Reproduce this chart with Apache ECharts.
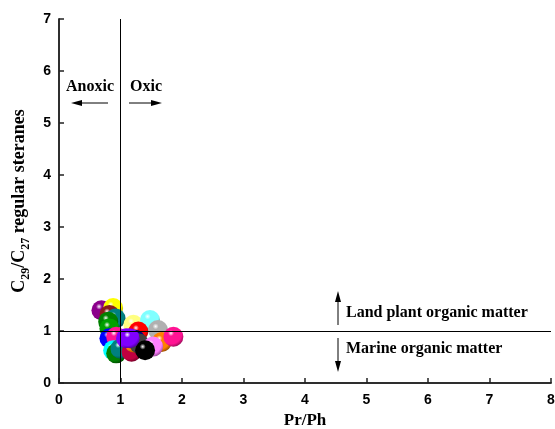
<!DOCTYPE html>
<html>
<head>
<meta charset="utf-8">
<script src="https://cdn.jsdelivr.net/npm/echarts@6/dist/echarts.min.js"></script>
<style>
html,body{margin:0;padding:0;background:#fff;}
#chart{width:555px;height:429px;}
</style>
</head>
<body>
<div id="chart"></div>
<script>
// Pr/Ph versus C29/C27 regular steranes, one sample per entry
const prPh =    [0.69, 0.88, 0.82, 0.92, 0.80, 0.82, 1.21, 1.48, 1.61, 1.29, 0.82, 0.93, 0.88, 0.93, 1.00, 1.18, 1.24, 1.22, 1.30, 1.67, 1.53, 1.40, 1.09, 1.15, 1.86];
const steranes = [1.40, 1.44, 1.31, 1.24, 1.18, 1.05, 1.12, 1.21, 1.02, 0.99, 0.86, 0.89, 0.63, 0.57, 0.66, 0.60, 0.83, 0.78, 0.76, 0.79, 0.70, 0.63, 0.86, 0.86, 0.89];
const sampleColors = ['#8b008b', '#ffff00', '#8b1a1a', '#008080', '#008000', '#00a000', '#ffff80', '#80ffff', '#b0b0b0', '#ff0000', '#0000ff', '#ff1493', '#00ffff', '#008000', '#008080', '#c00040', '#000080', '#ff8000', '#404040', '#ff8000', '#ff80ff', '#000000', '#8000ff', '#8000ff', '#ff1493'];
const xTicks = [0, 1, 2, 3, 4, 5, 6, 7, 8];
const yTicks = [0, 1, 2, 3, 4, 5, 6, 7];

function shade(hex, f) {
  const n = parseInt(hex.slice(1), 16);
  const r = Math.round(((n >> 16) & 255) * f);
  const g = Math.round(((n >> 8) & 255) * f);
  const b = Math.round((n & 255) * f);
  return 'rgb(' + r + ',' + g + ',' + b + ')';
}
// glossy ball: white highlight upper-left, darker rim
function sphere(c) {
  return new echarts.graphic.RadialGradient(0.38, 0.32, 0.75, [
    { offset: 0, color: '#ffffff' },
    { offset: 0.2, color: c },
    { offset: 0.72, color: c },
    { offset: 1, color: shade(c, 0.5) }
  ]);
}

const chart = echarts.init(document.getElementById('chart'));
const axisCol = '#222';
const tickFont = { color: '#000', fontFamily: 'Liberation Sans, Arial', fontWeight: 'bold', fontSize: 14 };
const serif = 'Liberation Serif, Times New Roman';

const points = prPh.map((x, i) => ({
  value: [x, steranes[i]],
  itemStyle: { color: sphere(sampleColors[i]) }
}));

const arrowHead = (pts) => ({ type: 'polygon', shape: { points: pts }, style: { fill: '#000' } });

chart.setOption({
  animation: false,
  grid: { left: 59, right: 4, top: 19, bottom: 46, outerBoundsMode: 'none', containLabel: false },
  xAxis: [{
    type: 'value', min: 0, max: 8, interval: 1,
    name: 'Pr/Ph', nameLocation: 'middle', nameGap: 22,
    nameTextStyle: { fontFamily: serif, fontWeight: 'bold', fontSize: 17, color: '#000' },
    axisLine: { lineStyle: { color: axisCol, width: 1.5 } },
    axisTick: { inside: true, length: 5, lineStyle: { color: axisCol, width: 1.5 } },
    axisLabel: Object.assign({ margin: 10, formatter: v => xTicks.includes(v) ? String(v) : '' }, tickFont),
    splitLine: { show: false }
  }, {
    type: 'value', min: 0, max: 8, position: 'top',
    axisLine: { show: true, lineStyle: { color: axisCol, width: 1.5 } },
    axisTick: { show: false }, axisLabel: { show: false }, splitLine: { show: false }
  }],
  yAxis: [{
    type: 'value', min: 0, max: 7, interval: 1,
    name: '{b|C}{s|29}{b|/C}{s|27}{b| regular steranes}',
    nameLocation: 'middle', nameGap: 31,
    nameTextStyle: {
      rich: {
        b: { fontFamily: serif, fontWeight: 'bold', fontSize: 18, color: '#000', lineHeight: 24, verticalAlign: 'bottom' },
        s: { fontFamily: serif, fontWeight: 'bold', fontSize: 12, color: '#000', lineHeight: 24, verticalAlign: 'bottom', padding: [0, 0, -4, 0] }
      }
    },
    axisLine: { lineStyle: { color: axisCol, width: 1.5 } },
    axisTick: { inside: true, length: 5, lineStyle: { color: axisCol, width: 1.5 } },
    axisLabel: Object.assign({ margin: 8, formatter: v => yTicks.includes(v) ? String(v) : '' }, tickFont),
    splitLine: { show: false }
  }, {
    type: 'value', min: 0, max: 7, position: 'right',
    axisLine: { show: true, lineStyle: { color: axisCol, width: 1.5 } },
    axisTick: { show: false }, axisLabel: { show: false }, splitLine: { show: false }
  }],
  series: [{
    type: 'scatter',
    symbolSize: 20,
    data: points,
    itemStyle: { opacity: 1 },
    markLine: {
      silent: true, symbol: 'none', label: { show: false },
      lineStyle: { color: '#000', width: 1, type: 'solid' },
      data: [{ xAxis: 1 }, { yAxis: 1 }]
    },
    z: 3
  }],
  graphic: [
    { type: 'text', left: 66, top: 79, style: { text: 'Anoxic', font: 'bold 16px ' + serif, fill: '#000' } },
    { type: 'text', left: 130, top: 79, style: { text: 'Oxic', font: 'bold 16px ' + serif, fill: '#000' } },
    { type: 'line', shape: { x1: 80, y1: 103, x2: 108, y2: 103 }, style: { stroke: '#000', lineWidth: 1 } },
    arrowHead([[71, 103], [82, 100], [82, 106]]),
    { type: 'line', shape: { x1: 129, y1: 103, x2: 154, y2: 103 }, style: { stroke: '#000', lineWidth: 1 } },
    arrowHead([[162, 103], [151, 100], [151, 106]]),
    { type: 'text', left: 346, top: 305, style: { text: 'Land plant organic matter', font: 'bold 16px ' + serif, fill: '#000' } },
    { type: 'text', left: 346, top: 341, style: { text: 'Marine organic matter', font: 'bold 16px ' + serif, fill: '#000' } },
    { type: 'line', shape: { x1: 338, y1: 300, x2: 338, y2: 325 }, style: { stroke: '#000', lineWidth: 1 } },
    arrowHead([[338, 291], [335, 302], [341, 302]]),
    { type: 'line', shape: { x1: 338, y1: 338, x2: 338, y2: 362 }, style: { stroke: '#000', lineWidth: 1 } },
    arrowHead([[338, 372], [335, 361], [341, 361]])
  ]
});
</script>
</body>
</html>
